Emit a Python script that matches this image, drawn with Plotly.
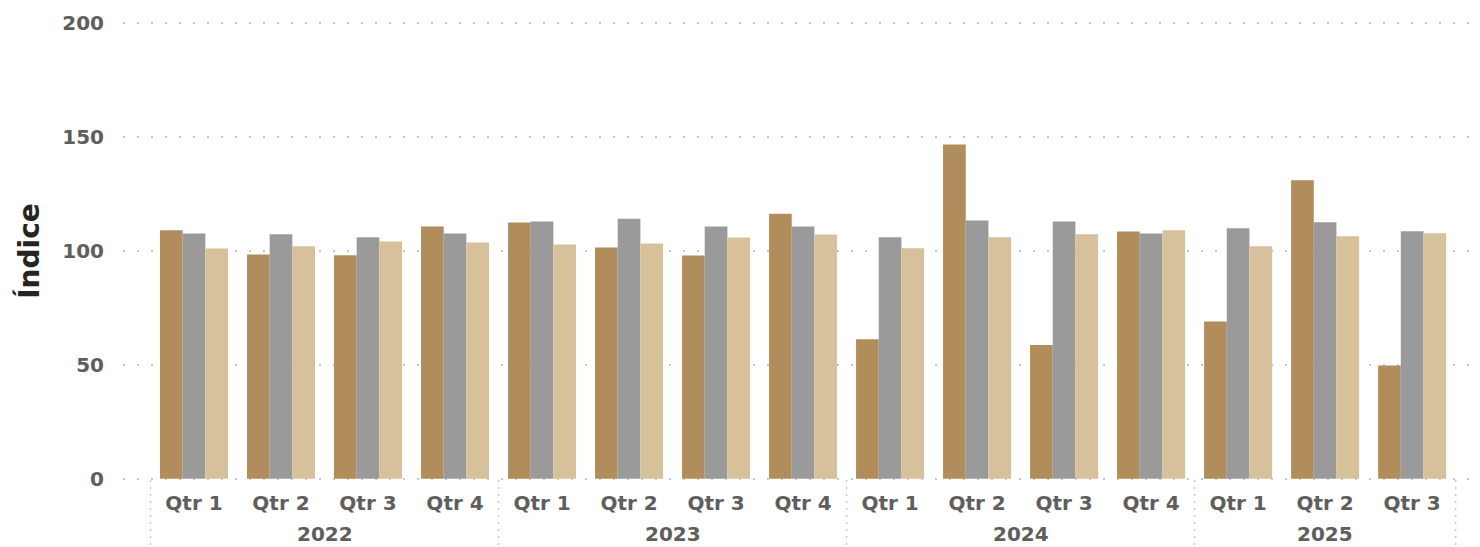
import plotly.graph_objects as go

# Categories
years = ["2022"] * 4 + ["2023"] * 4 + ["2024"] * 4 + ["2025"] * 3
quarters = ["Qtr 1", "Qtr 2", "Qtr 3", "Qtr 4"] * 3 + ["Qtr 1", "Qtr 2", "Qtr 3"]
year_labels = ["2022", "2023", "2024", "2025"]

# Series values
serie_a = [109.1, 98.5, 98.1, 110.8, 112.5, 101.5, 98.0, 116.4,
           61.3, 146.7, 58.7, 108.6, 69.1, 131.1, 49.7]
serie_b = [107.7, 107.3, 106.0, 107.7, 112.9, 114.2, 110.7, 110.7,
           106.0, 113.4, 113.0, 107.7, 110.0, 112.6, 108.7]
serie_c = [101.1, 102.1, 104.2, 103.7, 102.8, 103.3, 105.9, 107.2,
           101.2, 106.0, 107.3, 109.1, 102.1, 106.5, 107.8]

y_ticks = [0, 50, 100, 150, 200]

colors = ["#B18D5B", "#9A9A9A", "#D6C19B"]
names = ["Serie A", "Serie B", "Serie C"]

tick_color = "#605E5C"
tick_font = dict(family="DejaVu Sans", size=20, color=tick_color, weight="bold")

# unique category keys, shown with the quarter text only
keys = [f"{y} {q}" for y, q in zip(years, quarters)]

fig = go.Figure()
for name, vals, col in zip(names, [serie_a, serie_b, serie_c], colors):
    fig.add_trace(go.Bar(
        x=keys,
        y=vals,
        name=name,
        marker=dict(color=col, line=dict(width=0)),
        customdata=years,
    ))

# x range in category units, a bit wider than the data on each side
x_range = [-0.816, 14.78]

# year labels + dotted dividers between the years
start = 0
fig.add_shape(type="line", xref="x", yref="paper", x0=-0.5, x1=-0.5,
              y0=0, y1=-0.16, line=dict(color="#C8C8C8", width=1.5, dash="2px,5px"))
for yl in year_labels:
    n = years.count(yl)
    end = start + n
    fig.add_annotation(x=(start + end - 1) / 2, y=0, xref="x", yref="paper",
                       text=yl, showarrow=False, yanchor="top", yshift=-40,
                       font=tick_font)
    fig.add_shape(type="line", xref="x", yref="paper",
                  x0=end - 0.5, x1=end - 0.5, y0=0, y1=-0.16,
                  line=dict(color="#C8C8C8", width=1.5, dash="2px,5px"))
    start = end

# page body has an 8px offset, margins compensate for it
fig.update_layout(
    width=1480,
    height=547,
    margin=dict(l=115, r=8, t=14, b=75),
    paper_bgcolor="white",
    plot_bgcolor="white",
    barmode="group",
    bargap=0.218,
    bargroupgap=0,
    showlegend=False,
    font=dict(family="DejaVu Sans"),
)

fig.update_xaxes(
    type="category",
    range=x_range,
    tickvals=keys,
    ticktext=quarters,
    automargin=False,
    showgrid=False,
    showline=False,
    zeroline=False,
    tickfont=tick_font,
    ticks="",
    ticklabelstandoff=9,
)

fig.update_yaxes(
    range=[-0.5, 200.5],
    tickvals=y_ticks,
    automargin=False,
    showgrid=True,
    gridcolor="#C8C8C8",
    gridwidth=1.5,
    griddash="2px,12px",
    zeroline=False,
    showline=False,
    ticks="",
    ticklabelstandoff=18,
    tickfont=tick_font,
    title=dict(text="Índice",
               font=dict(family="DejaVu Sans", size=28, color="#252423", weight="bold"),
               standoff=14),
)

fig.write_html("out.html")
